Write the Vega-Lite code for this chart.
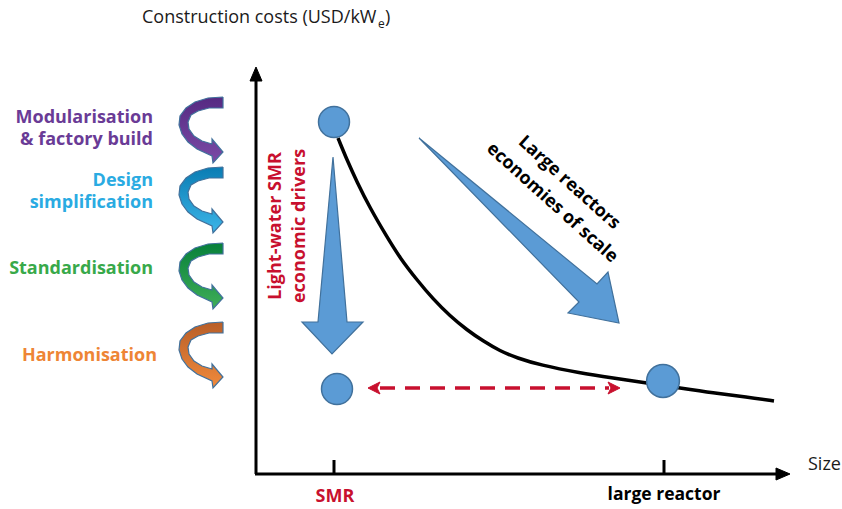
{
  "$schema": "https://vega.github.io/schema/vega-lite/v6.json",
  "width": 842,
  "height": 509,
  "autosize": {"type": "fit", "contains": "padding"},
  "padding": 0,
  "background": "white",
  "config": {"view": {"stroke": null}, "font": "Open Sans"},
  "datasets": {
    "ribbons": [
      {"id":"p","o":0,"x":223,"y":97},{"id":"p","o":1,"x":208,"y":98},{"id":"p","o":2,"x":195,"y":102},{"id":"p","o":3,"x":186,"y":108},{"id":"p","o":4,"x":180,"y":116},{"id":"p","o":5,"x":179,"y":125},{"id":"p","o":6,"x":182,"y":134},{"id":"p","o":7,"x":188,"y":142},{"id":"p","o":8,"x":197,"y":149},{"id":"p","o":9,"x":212,"y":156},{"id":"p","o":10,"x":213,"y":163},{"id":"p","o":11,"x":223,"y":152},{"id":"p","o":12,"x":212,"y":139},{"id":"p","o":13,"x":212,"y":144},{"id":"p","o":14,"x":202,"y":141},{"id":"p","o":15,"x":194,"y":136},{"id":"p","o":16,"x":189,"y":129},{"id":"p","o":17,"x":188,"y":122},{"id":"p","o":18,"x":191,"y":115},{"id":"p","o":19,"x":198,"y":111},{"id":"p","o":20,"x":209,"y":108},{"id":"p","o":21,"x":223,"y":108},{"id":"p","o":22,"x":223,"y":97},
      {"id":"b","o":0,"x":223,"y":167},{"id":"b","o":1,"x":208,"y":168},{"id":"b","o":2,"x":195,"y":172},{"id":"b","o":3,"x":186,"y":178},{"id":"b","o":4,"x":180,"y":186},{"id":"b","o":5,"x":179,"y":195},{"id":"b","o":6,"x":182,"y":204},{"id":"b","o":7,"x":188,"y":212},{"id":"b","o":8,"x":197,"y":219},{"id":"b","o":9,"x":212,"y":226},{"id":"b","o":10,"x":213,"y":233},{"id":"b","o":11,"x":223,"y":222},{"id":"b","o":12,"x":212,"y":209},{"id":"b","o":13,"x":212,"y":214},{"id":"b","o":14,"x":202,"y":211},{"id":"b","o":15,"x":194,"y":206},{"id":"b","o":16,"x":189,"y":199},{"id":"b","o":17,"x":188,"y":192},{"id":"b","o":18,"x":191,"y":185},{"id":"b","o":19,"x":198,"y":181},{"id":"b","o":20,"x":209,"y":178},{"id":"b","o":21,"x":223,"y":178},{"id":"b","o":22,"x":223,"y":167},
      {"id":"g","o":0,"x":223,"y":243},{"id":"g","o":1,"x":208,"y":244},{"id":"g","o":2,"x":195,"y":248},{"id":"g","o":3,"x":186,"y":254},{"id":"g","o":4,"x":180,"y":262},{"id":"g","o":5,"x":179,"y":271},{"id":"g","o":6,"x":182,"y":280},{"id":"g","o":7,"x":188,"y":288},{"id":"g","o":8,"x":197,"y":295},{"id":"g","o":9,"x":212,"y":302},{"id":"g","o":10,"x":213,"y":309},{"id":"g","o":11,"x":223,"y":298},{"id":"g","o":12,"x":212,"y":285},{"id":"g","o":13,"x":212,"y":290},{"id":"g","o":14,"x":202,"y":287},{"id":"g","o":15,"x":194,"y":282},{"id":"g","o":16,"x":189,"y":275},{"id":"g","o":17,"x":188,"y":268},{"id":"g","o":18,"x":191,"y":261},{"id":"g","o":19,"x":198,"y":257},{"id":"g","o":20,"x":209,"y":254},{"id":"g","o":21,"x":223,"y":254},{"id":"g","o":22,"x":223,"y":243},
      {"id":"h","o":0,"x":223,"y":322},{"id":"h","o":1,"x":208,"y":323},{"id":"h","o":2,"x":195,"y":327},{"id":"h","o":3,"x":186,"y":333},{"id":"h","o":4,"x":180,"y":341},{"id":"h","o":5,"x":179,"y":350},{"id":"h","o":6,"x":182,"y":359},{"id":"h","o":7,"x":188,"y":367},{"id":"h","o":8,"x":197,"y":374},{"id":"h","o":9,"x":212,"y":381},{"id":"h","o":10,"x":213,"y":388},{"id":"h","o":11,"x":223,"y":377},{"id":"h","o":12,"x":212,"y":364},{"id":"h","o":13,"x":212,"y":369},{"id":"h","o":14,"x":202,"y":366},{"id":"h","o":15,"x":194,"y":361},{"id":"h","o":16,"x":189,"y":354},{"id":"h","o":17,"x":188,"y":347},{"id":"h","o":18,"x":191,"y":340},{"id":"h","o":19,"x":198,"y":336},{"id":"h","o":20,"x":209,"y":333},{"id":"h","o":21,"x":223,"y":333},{"id":"h","o":22,"x":223,"y":322}
    ],
    "blueArrows": [
      {"id":"v","o":0,"x":333,"y":157},{"id":"v","o":1,"x":347,"y":322},{"id":"v","o":2,"x":363,"y":322},{"id":"v","o":3,"x":332,"y":354},{"id":"v","o":4,"x":302,"y":322},{"id":"v","o":5,"x":318,"y":322},{"id":"v","o":6,"x":333,"y":157},
      {"id":"d","o":0,"x":419,"y":138},{"id":"d","o":1,"x":597,"y":284},{"id":"d","o":2,"x":608,"y":272},{"id":"d","o":3,"x":619,"y":323},{"id":"d","o":4,"x":568,"y":313},{"id":"d","o":5,"x":579,"y":302},{"id":"d","o":6,"x":419,"y":138}
    ],
    "redHeads": [
      {"id":"l","o":0,"x":368,"y":388},{"id":"l","o":1,"x":380,"y":382},{"id":"l","o":2,"x":377,"y":388},{"id":"l","o":3,"x":380,"y":394},{"id":"l","o":4,"x":368,"y":388},
      {"id":"r","o":0,"x":620,"y":388},{"id":"r","o":1,"x":608,"y":382},{"id":"r","o":2,"x":611,"y":388},{"id":"r","o":3,"x":608,"y":394},{"id":"r","o":4,"x":620,"y":388}
    ],
    "axisHeads": [
      {"id":"y","o":0,"x":256,"y":67},{"id":"y","o":1,"x":262,"y":81},{"id":"y","o":2,"x":250,"y":81},{"id":"y","o":3,"x":256,"y":67},
      {"id":"x","o":0,"x":790,"y":474},{"id":"x","o":1,"x":776,"y":468},{"id":"x","o":2,"x":776,"y":480},{"id":"x","o":3,"x":790,"y":474}
    ],
    "axes": [
      {"x":256,"y":474,"x2":256,"y2":79},
      {"x":255,"y":474,"x2":778,"y2":474},
      {"x":334,"y":474,"x2":334,"y2":460},
      {"x":664,"y":474,"x2":664,"y2":460}
    ],
    "curve": [
      {"x":338,"y":138},{"x":347,"y":160},{"x":357,"y":182},{"x":370,"y":208},{"x":387,"y":237},{"x":400,"y":258},{"x":417,"y":280},{"x":433,"y":299},{"x":450,"y":316},{"x":467,"y":330},{"x":483,"y":341},{"x":500,"y":351},{"x":517,"y":358},{"x":540,"y":365},{"x":580,"y":373},{"x":613,"y":378},{"x":647,"y":383},{"x":680,"y":388},{"x":713,"y":393},{"x":747,"y":397},{"x":774,"y":401}
    ],
    "circles": [
      {"x":334,"y":122,"k":"small"},{"x":337,"y":389,"k":"small"},{"x":663,"y":381,"k":"large"}
    ],
    "dashed": [{"x":380,"y":388,"x2":609,"y2":388}],
    "leftLabels": [
      {"t":"Modularisation","x":153,"y":123,"k":"mod"},
      {"t":"& factory build","x":153,"y":145,"k":"mod"},
      {"t":"Design","x":153,"y":186,"k":"des"},
      {"t":"simplification","x":153,"y":208,"k":"des"},
      {"t":"Standardisation","x":153,"y":274,"k":"std"},
      {"t":"Harmonisation","x":157,"y":361,"k":"har"}
    ],
    "vertText": [
      {"t":"Light-water SMR","x":276,"y":226},
      {"t":"economic drivers","x":300,"y":226}
    ],
    "diagText": [
      {"t":"Large reactors","x":569,"y":183},
      {"t":"economies of scale","x":552,"y":203}
    ]
  },
  "encoding": {
    "x": {"field": "x", "type": "quantitative", "scale": {"domain": [0, 842]}, "axis": null},
    "y": {"field": "y", "type": "quantitative", "scale": {"domain": [0, 509], "reverse": true}, "axis": null}
  },
  "layer": [
    {
      "data": {"name": "ribbons"},
      "transform": [{"filter": {"field": "id", "equal": "p"}}],
      "mark": {"type": "line", "stroke": "#41719c", "strokeWidth": 1.2, "interpolate": "linear",
        "fill": {"gradient": "linear", "x1": 0, "y1": 0, "x2": 0, "y2": 1, "stops": [{"offset": 0, "color": "#552a82"}, {"offset": 1, "color": "#7b4ba6"}]}},
      "encoding": {"order": {"field": "o"}}
    },
    {
      "data": {"name": "ribbons"},
      "transform": [{"filter": {"field": "id", "equal": "b"}}],
      "mark": {"type": "line", "stroke": "#41719c", "strokeWidth": 1.2,
        "fill": {"gradient": "linear", "x1": 0, "y1": 0, "x2": 0, "y2": 1, "stops": [{"offset": 0, "color": "#0a7cb3"}, {"offset": 1, "color": "#3cb5e8"}]}},
      "encoding": {"order": {"field": "o"}}
    },
    {
      "data": {"name": "ribbons"},
      "transform": [{"filter": {"field": "id", "equal": "g"}}],
      "mark": {"type": "line", "stroke": "#41719c", "strokeWidth": 1.2,
        "fill": {"gradient": "linear", "x1": 0, "y1": 0, "x2": 0, "y2": 1, "stops": [{"offset": 0, "color": "#07803a"}, {"offset": 1, "color": "#3fae58"}]}},
      "encoding": {"order": {"field": "o"}}
    },
    {
      "data": {"name": "ribbons"},
      "transform": [{"filter": {"field": "id", "equal": "h"}}],
      "mark": {"type": "line", "stroke": "#41719c", "strokeWidth": 1.2,
        "fill": {"gradient": "linear", "x1": 0, "y1": 0, "x2": 0, "y2": 1, "stops": [{"offset": 0, "color": "#b85e28"}, {"offset": 1, "color": "#f08a3c"}]}},
      "encoding": {"order": {"field": "o"}}
    },
    {
      "data": {"name": "axes"},
      "mark": {"type": "rule", "color": "black", "strokeWidth": 3},
      "encoding": {"x2": {"field": "x2"}, "y2": {"field": "y2"}}
    },
    {
      "data": {"name": "axisHeads"},
      "mark": {"type": "line", "stroke": "black", "strokeWidth": 1, "fill": "black"},
      "encoding": {"order": {"field": "o"}, "detail": {"field": "id"}}
    },
    {
      "data": {"name": "blueArrows"},
      "mark": {"type": "line", "stroke": "#41719c", "strokeWidth": 1.2, "fill": "#5b9bd5", "strokeJoin": "miter"},
      "encoding": {"order": {"field": "o"}, "detail": {"field": "id"}}
    },
    {
      "data": {"name": "curve"},
      "mark": {"type": "line", "color": "black", "strokeWidth": 3.5, "interpolate": "basis"},
      "encoding": {}
    },
    {
      "data": {"name": "dashed"},
      "mark": {"type": "rule", "color": "#c8102e", "strokeWidth": 3.5, "strokeDash": [15, 10]},
      "encoding": {"x2": {"field": "x2"}, "y2": {"field": "y2"}}
    },
    {
      "data": {"name": "redHeads"},
      "mark": {"type": "line", "stroke": "#c8102e", "strokeWidth": 1, "fill": "#c8102e"},
      "encoding": {"order": {"field": "o"}, "detail": {"field": "id"}}
    },
    {
      "data": {"name": "circles"},
      "mark": {"type": "point", "shape": "circle", "filled": true, "fill": "#5b9bd5", "stroke": "#41719c", "strokeWidth": 1.5, "opacity": 1},
      "encoding": {"size": {"field": "k", "type": "nominal", "scale": {"domain": ["small", "large"], "range": [960, 1080]}, "legend": null}}
    },
    {
      "data": {"name": "leftLabels"},
      "mark": {"type": "text", "align": "right", "baseline": "alphabetic", "fontSize": 18, "fontWeight": "bold", "font": "Open Sans"},
      "encoding": {
        "text": {"field": "t"},
        "color": {"field": "k", "type": "nominal", "scale": {"domain": ["mod", "des", "std", "har"], "range": ["#6a3b96", "#2aabe2", "#38a94a", "#ee8535"]}, "legend": null}
      }
    },
    {
      "data": {"name": "vertText"},
      "mark": {"type": "text", "align": "center", "baseline": "middle", "angle": 270, "fontSize": 18, "fontWeight": "bold", "color": "#c8102e", "font": "Open Sans"},
      "encoding": {"text": {"field": "t"}}
    },
    {
      "data": {"name": "diagText"},
      "mark": {"type": "text", "align": "center", "baseline": "middle", "angle": 42, "fontSize": 18, "fontWeight": "bold", "color": "black", "font": "Open Sans"},
      "encoding": {"text": {"field": "t"}}
    },
    {
      "data": {"values": [{"t": "SMR", "x": 335, "y": 497}]},
      "mark": {"type": "text", "align": "center", "baseline": "middle", "fontSize": 18, "fontWeight": "bold", "color": "#c8102e", "font": "Open Sans"},
      "encoding": {"text": {"field": "t"}}
    },
    {
      "data": {"values": [{"t": "large reactor", "x": 664, "y": 495}]},
      "mark": {"type": "text", "align": "center", "baseline": "middle", "fontSize": 17.5, "fontWeight": "bold", "color": "black", "font": "Open Sans"},
      "encoding": {"text": {"field": "t"}}
    },
    {
      "data": {"values": [{"t": "Size", "x": 808, "y": 465}, {"t": "Construction costs (USD/kW", "x": 142, "y": 18}]},
      "mark": {"type": "text", "align": "left", "baseline": "middle", "fontSize": 18, "color": "#1a1a1a", "font": "Open Sans"},
      "encoding": {"text": {"field": "t"}}
    },
    {
      "data": {"values": [{"t": "e", "x": 378, "y": 24}]},
      "mark": {"type": "text", "align": "left", "baseline": "middle", "fontSize": 12, "color": "#1a1a1a", "font": "Open Sans"},
      "encoding": {"text": {"field": "t"}}
    },
    {
      "data": {"values": [{"t": ")", "x": 385, "y": 18}]},
      "mark": {"type": "text", "align": "left", "baseline": "middle", "fontSize": 18, "color": "#1a1a1a", "font": "Open Sans"},
      "encoding": {"text": {"field": "t"}}
    }
  ]
}
